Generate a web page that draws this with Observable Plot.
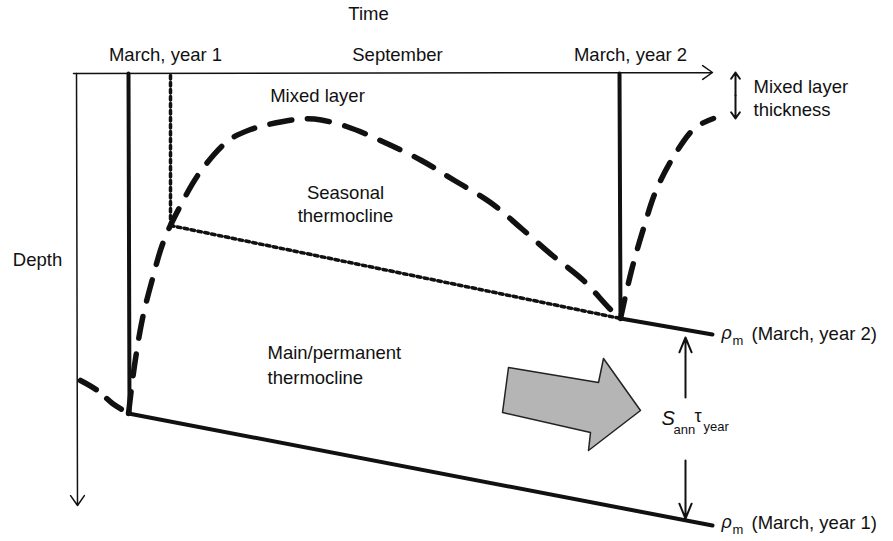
<!DOCTYPE html>
<html><head><meta charset="utf-8">
<script src="https://cdn.jsdelivr.net/npm/d3@7"></script>
<script src="https://cdn.jsdelivr.net/npm/@observablehq/plot@0.6"></script>
<style>body{margin:0;background:#fff}</style>
</head><body><div id="chart"></div>
<script>
// Schematic coordinates (time units along x, depth units along y)
const timeAxis = [[73, 73], [712, 72]];
const depthAxis = [[76, 73], [77, 505]];
const march1Line = [[128, 73], [129, 413]];
const march2Line = [[619, 73], [620, 318]];
const mixedPre = [[80, 380], [97, 390], [112, 403], [128, 413]];
const mixedSeason = [[128, 413], [134, 365], [142, 318], [151, 282], [163, 241], [179, 207], [200, 171], [228, 140], [250, 129], [268, 124], [295, 119], [314, 118.5], [346, 126], [382, 141], [421, 160], [454, 180], [490, 202], [521, 228], [552, 255], [583, 280], [609, 308], [620, 318]];
const mixedPost = [[620, 318], [631, 270], [643, 228], [656, 189], [675, 153], [695, 127], [713, 118]];
const dottedVert = [[170, 75], [170, 225]];
const dottedDiag = [[170, 225], [620, 318]];
const rhoYear1 = [[128, 413], [712, 525]];
const rhoYear2 = [[620, 318], [712, 334]];
const grayArrow = [[508, 367], [598, 382], [603, 358], [640, 410], [588, 450], [590, 432], [502, 412], [508, 367]];
const thicknessArrows = [{x: 735, y1: 95, y2: 72}, {x: 735, y1: 95, y2: 118}];
const sArrows = [{x: 685, y1: 397, y2: 337}, {x: 685, y1: 460, y2: 518}];
const centerLabels = [
  {t: "Time", x: 368, y: 14},
  {t: "March, year 1", x: 165, y: 55},
  {t: "September", x: 397, y: 55},
  {t: "March, year 2", x: 630, y: 55},
  {t: "Mixed layer", x: 317, y: 96},
  {t: "Seasonal", x: 345, y: 193},
  {t: "thermocline", x: 345, y: 216},
  {t: "Depth", x: 37, y: 260}
];
const startLabels = [
  {t: "Main/permanent", x: 267, y: 353},
  {t: "thermocline", x: 267, y: 378},
  {t: "Mixed layer", x: 753, y: 87},
  {t: "thickness", x: 753, y: 110},
  {t: "(March, year 2)", x: 751, y: 334},
  {t: "(March, year 1)", x: 751, y: 523}
];
const italicLabels = [
  {t: "ρ", x: 721, y: 333, s: 18},
  {t: "ρ", x: 721, y: 522, s: 18},
  {t: "S", x: 661, y: 418, s: 20}
];
const plainSymbols = [
  {t: "τ", x: 694, y: 416, s: 18}
];
const subLabels = [
  {t: "m", x: 732, y: 340},
  {t: "m", x: 732, y: 529},
  {t: "ann", x: 673, y: 429},
  {t: "year", x: 703, y: 426}
];

const font = "Liberation Sans, Arial, Helvetica, sans-serif";
const P = d => d[0], Q = d => d[1];
const line = (data, o) => Plot.line(data, {x: P, y: Q, ...o});

const chart = Plot.plot({
  width: 893, height: 541,
  margin: 0,
  x: {domain: [0, 893], range: [0, 893], axis: null},
  y: {domain: [0, 541], range: [0, 541], axis: null},
  style: {fontFamily: font, background: "#fff"},
  marks: [
    line(grayArrow, {fill: "#b5b5b5", stroke: "#222", strokeWidth: 1.5, curve: "linear"}),
    Plot.arrow([timeAxis], {x1: d => d[0][0], y1: d => d[0][1], x2: d => d[1][0], y2: d => d[1][1], strokeWidth: 1.5, headLength: 12, headAngle: 70, stroke: "#111"}),
    Plot.arrow([depthAxis], {x1: d => d[0][0], y1: d => d[0][1], x2: d => d[1][0], y2: d => d[1][1], strokeWidth: 1.5, headLength: 12, headAngle: 70, stroke: "#111"}),
    line(march1Line, {strokeWidth: 4, stroke: "#111"}),
    line(march2Line, {strokeWidth: 4, stroke: "#111"}),
    line(dottedVert, {strokeWidth: 3.5, strokeDasharray: "3.5,3.5", stroke: "#111"}),
    line(dottedDiag, {strokeWidth: 3.5, strokeDasharray: "3.5,3.5", stroke: "#111"}),
    line(mixedPre, {strokeWidth: 5.5, strokeDasharray: "18,14", curve: "catmull-rom", stroke: "#111"}),
    line(mixedSeason, {strokeWidth: 5.5, strokeDasharray: "22,16", curve: "catmull-rom", stroke: "#111"}),
    line(mixedPost, {strokeWidth: 5.5, strokeDasharray: "20,16", curve: "catmull-rom", stroke: "#111"}),
    line(rhoYear1, {strokeWidth: 4, stroke: "#111"}),
    line(rhoYear2, {strokeWidth: 4, stroke: "#111"}),
    Plot.arrow(thicknessArrows, {x1: "x", y1: "y1", x2: "x", y2: "y2", strokeWidth: 2, headLength: 9, headAngle: 70, stroke: "#111"}),
    Plot.arrow(sArrows, {x1: "x", y1: "y1", x2: "x", y2: "y2", strokeWidth: 2, headLength: 12, headAngle: 45, stroke: "#111"}),
    Plot.text(centerLabels, {x: "x", y: "y", text: "t", fontSize: 18.5, textAnchor: "middle", fill: "#111"}),
    Plot.text(startLabels, {x: "x", y: "y", text: "t", fontSize: 18.5, textAnchor: "start", fill: "#111"}),
    Plot.text(italicLabels, {x: "x", y: "y", text: "t", fontSize: d => d.s, fontStyle: "italic", textAnchor: "start", fill: "#111"}),
    Plot.text(plainSymbols, {x: "x", y: "y", text: "t", fontSize: d => d.s, textAnchor: "start", fill: "#111"}),
    Plot.text(subLabels, {x: "x", y: "y", text: "t", fontSize: 13, textAnchor: "start", fill: "#111"})
  ]
});
document.getElementById("chart").append(chart);
</script>
</body></html>
